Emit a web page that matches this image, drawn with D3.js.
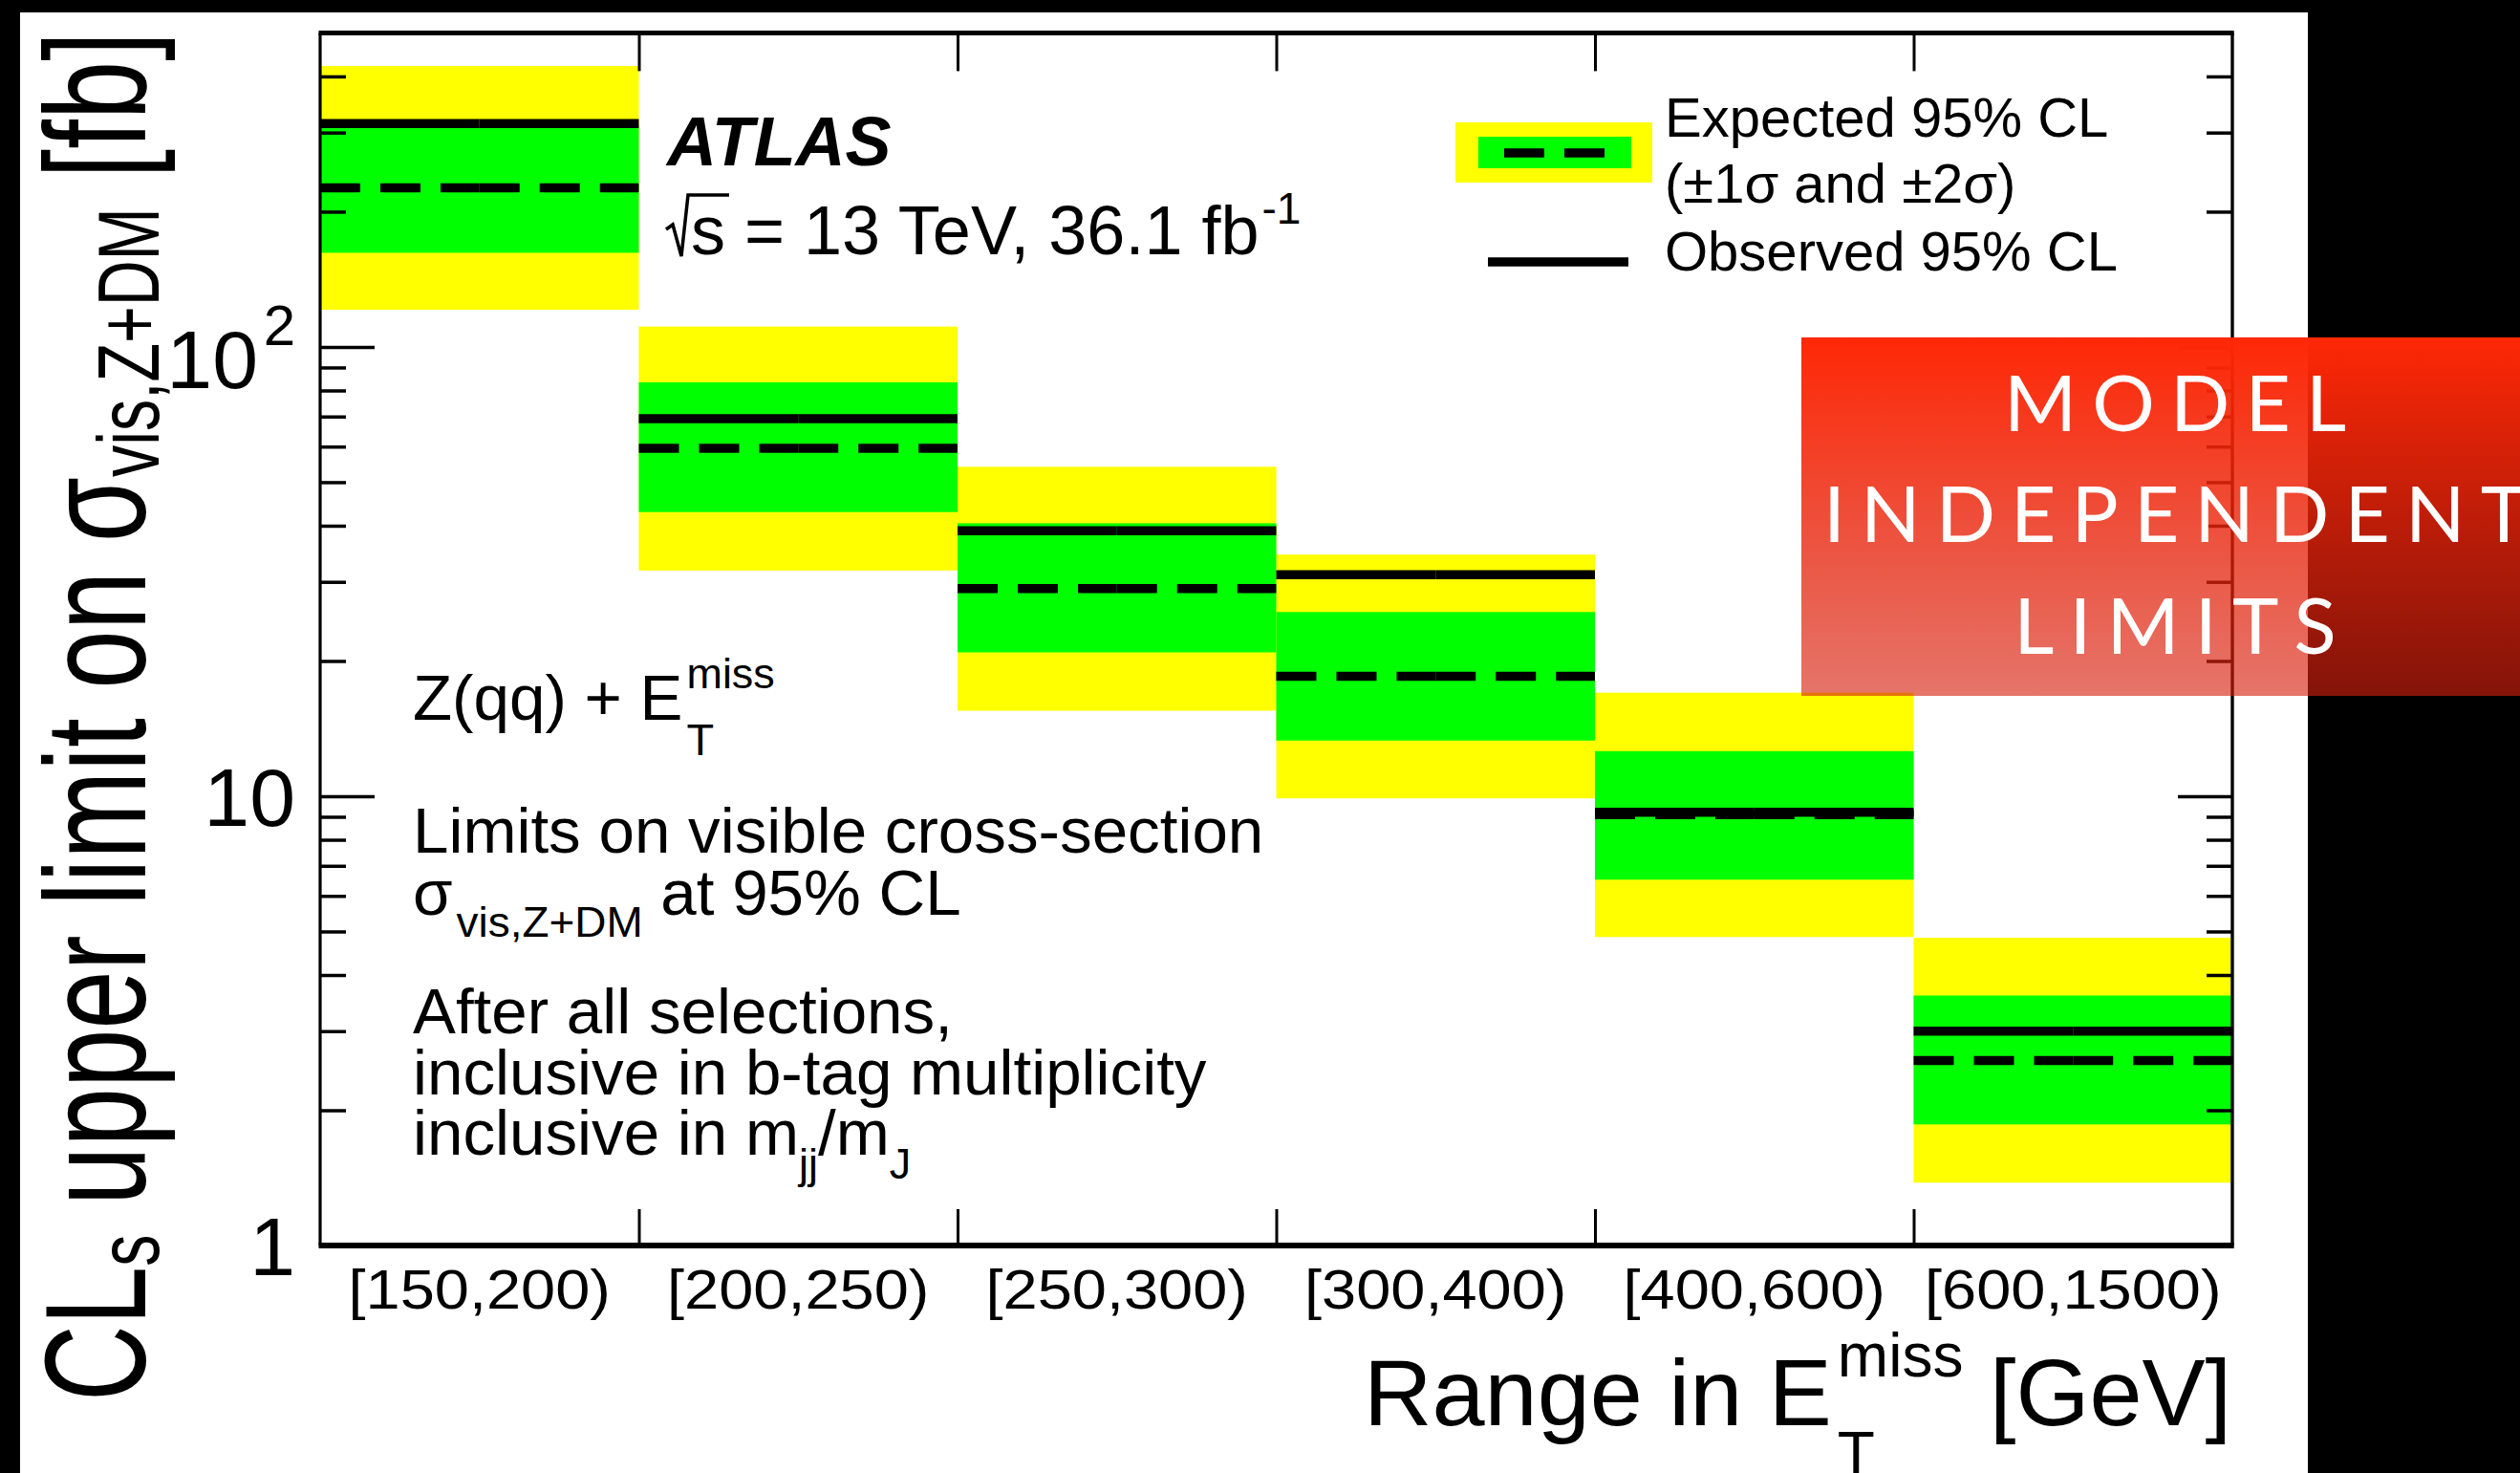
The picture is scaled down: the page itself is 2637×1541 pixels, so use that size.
<!DOCTYPE html>
<html>
<head>
<meta charset="utf-8">
<script src="https://cdn.jsdelivr.net/npm/d3@7"></script>
<style>
  html, body { margin: 0; padding: 0; background: #000; }
  svg { display: block; }
  text { white-space: pre; }
</style>
</head>
<body>
<svg id="chart" width="2637" height="1541"></svg>
<script>
// E_T^miss ranges (one bin each)
const binLabels = ["[150,200)", "[200,250)", "[250,300)", "[300,400)", "[400,600)", "[600,1500)"];

// Upper limits on the visible cross-section [fb]
const observed   = [314, 69.2, 39.0, 31.1, 9.21, 3.00];
const expected   = [226, 59.5, 29.0, 18.5, 9.10, 2.58];
const sigma1Up   = [312, 83.4, 40.5, 25.7, 12.6, 3.60];
const sigma1Down = [162, 42.9, 20.9, 13.3, 6.52, 1.86];
const sigma2Up   = [422, 111, 54.1, 34.5, 17.0, 4.84];
const sigma2Down = [121, 31.8, 15.5, 9.89, 4.86, 1.38];

// Axis ticks
const yMajorTicks = [1, 10, 100];
const yMinorTicks = [2, 3, 4, 5, 6, 7, 8, 9, 20, 30, 40, 50, 60, 70, 80, 90, 200, 300, 400];
const yTickLabels = ["1", "10", "10^2"];
const yDomain = [1, 500];

const W = 2637, H = 1541;
const FONT = "'Liberation Sans', Arial, Helvetica, sans-serif";
const svg = d3.select("#chart");

// page: dark surround with the white canvas of the figure
svg.append("rect").attr("width", W).attr("height", H).attr("fill", "#000");
svg.append("rect").attr("x", 21).attr("y", 13).attr("width", 2415 - 21).attr("height", H - 13).attr("fill", "#fff");

const frame = { left: 335, right: 2336, top: 34.4, bottom: 1303 };
const x = d3.scaleBand().domain(binLabels).range([frame.left, frame.right]).padding(0);
const xEdge = d3.scaleLinear().domain([0, binLabels.length]).range([frame.left, frame.right]);
const y = d3.scaleLog().domain(yDomain).range([frame.bottom, frame.top]);

const idx = d3.range(binLabels.length);

// ±2σ and ±1σ bands
const bands = svg.append("g");
bands.selectAll("rect.s2").data(idx).join("rect").attr("class", "s2")
  .attr("x", i => x(binLabels[i])).attr("width", x.bandwidth())
  .attr("y", i => y(sigma2Up[i])).attr("height", i => y(sigma2Down[i]) - y(sigma2Up[i]))
  .attr("fill", "#ffff00");
bands.selectAll("rect.s1").data(idx).join("rect").attr("class", "s1")
  .attr("x", i => x(binLabels[i])).attr("width", x.bandwidth())
  .attr("y", i => y(sigma1Up[i])).attr("height", i => y(sigma1Down[i]) - y(sigma1Up[i]))
  .attr("fill", "#00ff00");

// each bin's limit lines are drawn as two half-width segments
const halves = idx.flatMap(i => {
  const x0 = x(binLabels[i]), w = x.bandwidth();
  return [{ i, a: x0, b: x0 + w / 2 }, { i, a: x0 + w / 2, b: x0 + w }];
});
const lines = svg.append("g");
lines.selectAll("line.exp").data(halves).join("line").attr("class", "exp")
  .attr("x1", d => d.a).attr("x2", d => d.b)
  .attr("y1", d => y(expected[d.i])).attr("y2", d => y(expected[d.i]))
  .attr("stroke", "#000").attr("stroke-width", 9.5).attr("stroke-dasharray", "42 21");
lines.selectAll("line.obs").data(halves).join("line").attr("class", "obs")
  .attr("x1", d => d.a).attr("x2", d => d.b)
  .attr("y1", d => y(observed[d.i])).attr("y2", d => y(observed[d.i]))
  .attr("stroke", "#000").attr("stroke-width", 9.5);

// axes ticks (inward, ROOT style)
function styleTicks(g, w) {
  g.select(".domain").remove();
  g.selectAll(".tick line").attr("stroke", "#000").attr("stroke-width", w);
}
svg.append("g").attr("transform", `translate(${frame.left},0)`)
  .call(d3.axisLeft(y).tickValues(yMajorTicks).tickSizeInner(-57).tickSizeOuter(0).tickFormat(""))
  .call(g => styleTicks(g, 3.5));
svg.append("g").attr("transform", `translate(${frame.left},0)`)
  .call(d3.axisLeft(y).tickValues(yMinorTicks).tickSizeInner(-27).tickSizeOuter(0).tickFormat(""))
  .call(g => styleTicks(g, 3.5));
svg.append("g").attr("transform", `translate(${frame.right},0)`)
  .call(d3.axisRight(y).tickValues(yMajorTicks).tickSizeInner(-57).tickSizeOuter(0).tickFormat(""))
  .call(g => styleTicks(g, 3.5));
svg.append("g").attr("transform", `translate(${frame.right},0)`)
  .call(d3.axisRight(y).tickValues(yMinorTicks).tickSizeInner(-27).tickSizeOuter(0).tickFormat(""))
  .call(g => styleTicks(g, 3.5));

const edgeTicks = d3.range(1, binLabels.length);
svg.append("g").attr("transform", `translate(0,${frame.bottom})`)
  .call(d3.axisBottom(xEdge).tickValues(edgeTicks).tickSizeInner(-38).tickSizeOuter(0).tickFormat(""))
  .call(g => styleTicks(g, 3));
svg.append("g").attr("transform", `translate(0,${frame.top})`)
  .call(d3.axisTop(xEdge).tickValues(edgeTicks).tickSizeInner(-40).tickSizeOuter(0).tickFormat(""))
  .call(g => styleTicks(g, 3));

// bin labels under each range
svg.append("g").attr("transform", `translate(0,${frame.bottom})`)
  .call(d3.axisBottom(x).tickSize(0))
  .call(g => {
    g.select(".domain").remove();
    g.selectAll(".tick text")
      .attr("y", 66).attr("dy", 0)
      .attr("font-family", FONT).attr("font-size", 58).attr("fill", "#000")
      .attr("transform", "scale(1.12,1)");
  });

// frame
const fr = svg.append("g").attr("stroke", "#000");
fr.append("line").attr("x1", frame.left - 1.5).attr("x2", frame.right + 1.7).attr("y1", frame.top).attr("y2", frame.top).attr("stroke-width", 5);
fr.append("line").attr("x1", frame.left - 1.5).attr("x2", frame.right + 1.7).attr("y1", frame.bottom).attr("y2", frame.bottom).attr("stroke-width", 6);
fr.append("line").attr("x1", frame.left).attr("x2", frame.left).attr("y1", frame.top).attr("y2", frame.bottom).attr("stroke-width", 3.2);
fr.append("line").attr("x1", frame.right).attr("x2", frame.right).attr("y1", frame.top).attr("y2", frame.bottom).attr("stroke-width", 3.4);

// y tick labels
const ylab = svg.append("g").attr("font-family", FONT).attr("fill", "#000");
yMajorTicks.forEach((v, k) => {
  const [base, exp] = yTickLabels[k].split("^");
  const yc = y(v);
  if (exp) {
    const t = ylab.append("text").attr("text-anchor", "end");
    t.append("tspan").attr("x", 270).attr("y", yc + 43).attr("font-size", 86).text(base);
    t.append("tspan").attr("x", 309).attr("y", yc - 2).attr("font-size", 60).text(exp);
  } else {
    ylab.append("text").attr("x", 309).attr("y", yc + 31).attr("text-anchor", "end").attr("font-size", 86).text(base);
  }
});

// one text element made of sequential runs (sub/superscripts as tspans)
function rich(parent, x0, y0, parts, attrs = {}) {
  const t = parent.append("text").attr("font-family", FONT).attr("fill", "#000");
  Object.entries(attrs).forEach(([k, v]) => t.attr(k, v));
  let cx = x0, lastStart = x0;
  parts.forEach(p => {
    const sx = p.stack ? lastStart : cx + (p.gap || 0);
    const s = t.append("tspan")
      .attr("x", sx).attr("y", y0 + (p.dy || 0))
      .attr("font-size", p.size).text(p.t);
    const w = s.node().getComputedTextLength();
    lastStart = sx;
    cx = Math.max(cx, sx + w);
  });
  return { node: t, width: cx - x0 };
}

// y-axis title, rotated and fitted to its length
const yt = svg.append("g");
const ytr = rich(yt, 0, 0, [
  { t: "CL", size: 150 },
  { t: "s", size: 90, dy: 14 },
  { t: " upper limit on σ", size: 150 },
  { t: "vis,Z+DM", size: 90, dy: 14 },
  { t: " [fb]", size: 150 }
]);
yt.attr("transform", `translate(152,1466) rotate(-90) scale(${1433 / ytr.width},1)`);

// x-axis title, right-aligned to the frame
const xt = svg.append("g");
const xtr = rich(xt, 0, 0, [
  { t: "Range in E", size: 99 },
  { t: "miss", size: 64, dy: -51, gap: 6 },
  { t: "T", size: 64, dy: 52, stack: true },
  { t: " [GeV]", size: 99 }
]);
xt.attr("transform", `translate(${2335 - xtr.width},1491)`);

// experiment label
const lab = svg.append("g");
lab.append("text").attr("x", 698).attr("y", 173).attr("font-family", FONT)
  .attr("font-size", 72).attr("font-weight", "bold").attr("font-style", "italic").text("ATLAS");
lab.append("path").attr("d", "M697,240 L704,235 L713,268 L720,204 L763,204")
  .attr("fill", "none").attr("stroke", "#000").attr("stroke-width", 3.5).attr("stroke-linejoin", "miter");
rich(lab, 723, 266, [
  { t: "s = 13 TeV, 36.1 fb", size: 72 },
  { t: "-1", size: 46, dy: -32, gap: 3 }
]);

// analysis description, slightly widened runs
const desc = svg.append("g").attr("transform", "translate(432,0) scale(1.02,1) translate(-432,0)");
rich(desc, 432, 753, [
  { t: "Z(qq) + E", size: 66 },
  { t: "miss", size: 44, dy: -33, gap: 4 },
  { t: "T", size: 46, dy: 37, stack: true }
]);
rich(desc, 432, 892, [{ t: "Limits on visible cross-section", size: 66 }]);
rich(desc, 432, 957, [
  { t: "σ", size: 66 },
  { t: "vis,Z+DM", size: 45, dy: 23, gap: 4 },
  { t: " at 95% CL", size: 66 }
]);
rich(desc, 432, 1081, [{ t: "After all selections,", size: 66 }]);
rich(desc, 432, 1145, [{ t: "inclusive in b-tag multiplicity", size: 66 }]);
rich(desc, 432, 1208, [
  { t: "inclusive in m", size: 66 },
  { t: "jj", size: 44, dy: 25 },
  { t: "/m", size: 66 },
  { t: "J", size: 44, dy: 25 }
]);

// legend
const leg = svg.append("g");
leg.append("rect").attr("x", 1523).attr("y", 128).attr("width", 206).attr("height", 63).attr("fill", "#ffff00");
leg.append("rect").attr("x", 1547).attr("y", 143).attr("width", 160).attr("height", 33).attr("fill", "#00ff00");
leg.append("line").attr("x1", 1574).attr("x2", 1679).attr("y1", 160).attr("y2", 160)
  .attr("stroke", "#000").attr("stroke-width", 9.5).attr("stroke-dasharray", "42 21");
leg.append("line").attr("x1", 1557).attr("x2", 1704).attr("y1", 274).attr("y2", 274)
  .attr("stroke", "#000").attr("stroke-width", 9.5);
[["Expected 95% CL", 143], ["(±1σ and ±2σ)", 212], ["Observed 95% CL", 283]].forEach(([t, yy]) => {
  leg.append("text").attr("x", 1742).attr("y", yy).attr("font-family", FONT).attr("font-size", 58).text(t);
});

// banner overlay
const defs = svg.append("defs");
const grad = defs.append("linearGradient").attr("id", "bannerFade").attr("x1", 0).attr("y1", 0).attr("x2", 0).attr("y2", 1);
grad.append("stop").attr("offset", 0).attr("stop-color", "rgb(255,40,6)").attr("stop-opacity", 1);
grad.append("stop").attr("offset", 1).attr("stop-color", "rgb(214,32,14)").attr("stop-opacity", 0.62);
const banner = svg.append("g");
banner.append("rect").attr("x", 1885).attr("y", 353).attr("width", W - 1885).attr("height", 728 - 353)
  .attr("fill", "url(#bannerFade)");
const bannerLines = [["MODEL", 451], ["INDEPENDENT", 567], ["LIMITS", 684]];
const bannerCenter = 2276, bannerSize = 82;
const bannerFont = "Lato, 'Open Sans', sans-serif";
// letter spacing chosen so that the first word spans its width
const probe = banner.append("text").attr("font-family", bannerFont)
  .attr("font-size", bannerSize).attr("font-weight", 400).text("MODEL");
const natural = probe.node().getComputedTextLength();
probe.remove();
const spacing = (358 - natural) / 4;
bannerLines.forEach(([t, yy]) => {
  const tx = banner.append("text").attr("font-family", bannerFont)
    .attr("font-size", bannerSize).attr("font-weight", 400).attr("fill", "#fff").text(t);
  const w = tx.node().getComputedTextLength();
  const total = w + spacing * (t.length - 1);
  tx.attr("letter-spacing", spacing).attr("x", bannerCenter - total / 2).attr("y", yy);
});
</script>
</body>
</html>
